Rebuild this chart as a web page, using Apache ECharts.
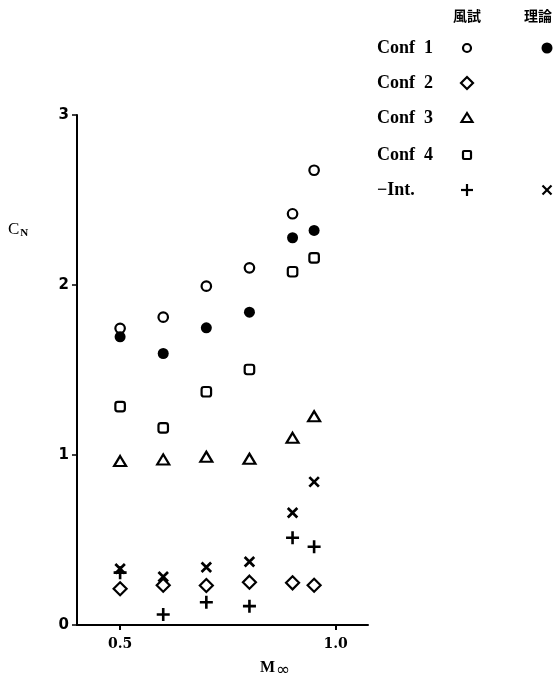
<!DOCTYPE html>
<html><head><meta charset="utf-8">
<script src="https://cdn.jsdelivr.net/npm/echarts@6/dist/echarts.min.js"></script>
<style>html,body{margin:0;padding:0;background:#fff}#c{width:556px;height:677px}</style>
</head><body><div id="c"></div>
<script>
// Data
const mach = [0.5, 0.6, 0.7, 0.8, 0.9, 0.95];
const conf1Exp = [1.745, 1.811, 1.993, 2.101, 2.419, 2.675];
const conf1Theory = [1.695, 1.597, 1.748, 1.840, 2.278, 2.321];
const conf2Exp = [0.213, 0.234, 0.232, 0.252, 0.248, 0.234];
const conf3Exp = [0.964, 0.974, 0.990, 0.978, 1.101, 1.228];
const conf4Exp = [1.284, 1.160, 1.372, 1.503, 2.078, 2.160];
const intExp = [0.308, 0.062, 0.134, 0.111, 0.513, 0.460];
const intTheory = [0.331, 0.284, 0.340, 0.372, 0.660, 0.842];
const xTicks = [0.5, 1.0];
const yTicks = [0, 1, 2, 3];
const legendRows = ['Conf  1', 'Conf  2', 'Conf  3', 'Conf  4', '\u2212Int.'];
const legendHeaders = ['風試', '理論'];

const pts = ys => mach.map((m, i) => [m, ys[i]]);
const plusPath = 'path://M0,4L10,4L10,6L0,6Z M4,0L6,0L6,10L4,10Z';
const serif = '"Liberation Serif", "DejaVu Serif", serif';

const chart = echarts.init(document.getElementById('c'), null, {renderer: 'canvas'});

function sc(name, data, symbol, size, style, rotate) {
  return {name, type: 'scatter', data: pts(data), symbol, symbolSize: size,
    symbolRotate: rotate || 0, itemStyle: style, silent: true, animation: false};
}
const open = {color: '#fff', borderColor: '#000', borderWidth: 2.2, opacity: 1};
const solid = {color: '#000', borderWidth: 0, opacity: 1};

// legend graphics
const lx = 377, mx = 467, tx = 547;
const rowY = [48, 83, 118, 155, 190];
const g = [];
g.push({type: 'text', left: 453, top: 9, style: {text: legendHeaders[0], font: 'bold 14px "Noto Sans CJK JP"', fill: '#000'}});
g.push({type: 'text', left: 524, top: 9, style: {text: legendHeaders[1], font: 'bold 14px "Noto Sans CJK JP"', fill: '#000'}});
legendRows.forEach((t, i) => {
  g.push({type: 'text', x: lx, y: rowY[i], style: {text: t, font: 'bold 18px ' + serif, fill: '#000', textVerticalAlign: 'middle'}});
});
const ls = {stroke: '#000', lineWidth: 2.2, fill: '#fff'};
g.push({type: 'circle', shape: {cx: mx, cy: rowY[0], r: 4}, style: ls});
g.push({type: 'circle', shape: {cx: tx, cy: rowY[0], r: 5.5}, style: {fill: '#000'}});
g.push({type: 'polygon', shape: {points: [[mx, rowY[1] - 6], [mx + 6, rowY[1]], [mx, rowY[1] + 6], [mx - 6, rowY[1]]]}, style: ls});
g.push({type: 'polygon', shape: {points: [[mx, rowY[2] - 5], [mx + 5.5, rowY[2] + 4], [mx - 5.5, rowY[2] + 4]]}, style: ls});
g.push({type: 'rect', shape: {x: mx - 4, y: rowY[3] - 4, width: 8, height: 8, r: 1}, style: ls});
g.push({type: 'line', shape: {x1: mx - 6, y1: rowY[4], x2: mx + 6, y2: rowY[4]}, style: {stroke: '#000', lineWidth: 2.2}});
g.push({type: 'line', shape: {x1: mx, y1: rowY[4] - 6, x2: mx, y2: rowY[4] + 6}, style: {stroke: '#000', lineWidth: 2.2}});
g.push({type: 'line', shape: {x1: tx - 4.5, y1: rowY[4] - 4.5, x2: tx + 4.5, y2: rowY[4] + 4.5}, style: {stroke: '#000', lineWidth: 2.2}});
g.push({type: 'line', shape: {x1: tx - 4.5, y1: rowY[4] + 4.5, x2: tx + 4.5, y2: rowY[4] - 4.5}, style: {stroke: '#000', lineWidth: 2.2}});
// axis titles
g.push({type: 'text', x: 8, y: 230, style: {
  text: '{c|C}{n|N}', textVerticalAlign: 'middle',
  rich: {c: {font: '17px ' + serif, fill: '#000'}, n: {font: 'bold 11px ' + serif, fill: '#000', padding: [6, 0, 0, 1]}}}});
g.push({type: 'text', x: 260, y: 668, style: {
  text: '{m|M}{i|\u221e}', textVerticalAlign: 'middle',
  rich: {m: {font: 'bold 16px ' + serif, fill: '#000'}, i: {font: '17px "DejaVu Sans"', fill: '#000', padding: [5, 0, 0, 1]}}}});

chart.setOption({
  animation: false,
  backgroundColor: '#fff',
  grid: {left: 77, top: 115, width: 291, height: 510, containLabel: false},
  xAxis: {
    type: 'value', min: 0.4, max: 1.075,
    axisLine: {show: true, onZero: false, lineStyle: {color: '#000', width: 2}},
    axisTick: {show: true, customValues: xTicks, length: 5, lineStyle: {color: '#000', width: 2}},
    axisLabel: {customValues: xTicks, formatter: v => v.toFixed(1), margin: 12, color: '#000',
      fontFamily: '"DejaVu Serif", serif', fontWeight: 'bold', fontSize: 14},
    splitLine: {show: false}
  },
  yAxis: {
    type: 'value', min: 0, max: 3, interval: 1,
    axisLine: {show: true, lineStyle: {color: '#000', width: 2}},
    axisTick: {show: true, length: 5, lineStyle: {color: '#000', width: 1.5}},
    axisLabel: {margin: 8, color: '#000', fontFamily: '"DejaVu Sans", sans-serif', fontWeight: 'bold', fontSize: 15,
      formatter: v => yTicks.includes(v) ? String(v) : ''},
    splitLine: {show: false}
  },
  series: [
    sc('Conf 1 風試', conf1Exp, 'circle', 9.5, open),
    sc('Conf 1 理論', conf1Theory, 'circle', 11, solid),
    sc('Conf 2 風試', conf2Exp, 'diamond', [13, 13], open),
    sc('Conf 3 風試', conf3Exp, 'triangle', [12, 10], open),
    sc('Conf 4 風試', conf4Exp, 'roundRect', 9.5, open),
    sc('−Int. 風試', intExp, plusPath, 13, solid),
    sc('−Int. 理論', intTheory, plusPath, 13.5, solid, 45)
  ],
  graphic: g
});
</script></body></html>
